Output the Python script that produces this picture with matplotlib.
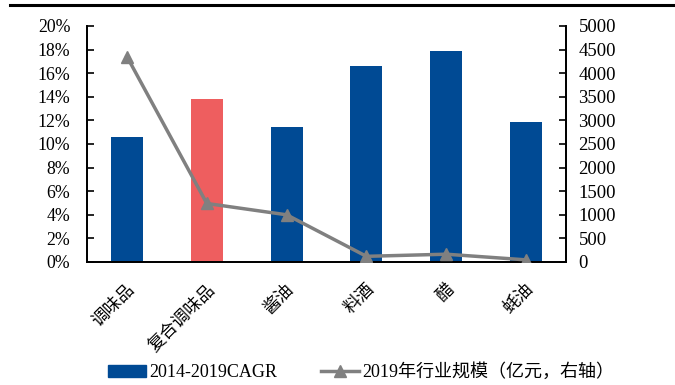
import matplotlib.pyplot as plt
import numpy as np
from matplotlib.ticker import FuncFormatter
from matplotlib.lines import Line2D

plt.rcParams['font.family'] = ['Liberation Serif', 'Noto Sans CJK SC']

# 品类、CAGR(%)、2019年规模(亿元)
cats = ['调味品', '复合调味品', '酱油', '料酒', '醋', '蚝油']
cagr = [10.55, 13.8, 11.45, 16.6, 17.85, 11.9]
scale_2019 = [4350, 1240, 1000, 120, 165, 45]
bar_colors = ['#004A94', '#EE5E5F', '#004A94', '#004A94', '#004A94', '#004A94']

x = np.arange(len(cats))

fig = plt.figure(figsize=(6.75, 3.85), dpi=100)
ax = fig.add_axes([0.129, 0.3195, 0.7095, 0.613])
ax2 = ax.twinx()

ax.bar(x, cagr, width=0.4, color=bar_colors, zorder=2)
ax2.plot(x, scale_2019, color='#808080', lw=2.5, marker='^', ms=8, zorder=3)

ax.set_xlim(-0.5, 5.5)
ax.set_ylim(0, 20)
ax.set_yticks(np.arange(0, 21, 2))
ax.yaxis.set_major_formatter(FuncFormatter(lambda v, p: f'{v:.0f}%'))
ax2.set_ylim(0, 5000)
ax2.set_yticks(np.arange(0, 5001, 500))

ax.set_xticks(x)
ax.set_xticklabels(cats, rotation=45, ha='right', rotation_mode='anchor', fontsize=12.5)
ax.tick_params(axis='x', length=0, pad=14)
ax.tick_params(axis='y', direction='in', length=5, width=1.2, labelsize=12.8, pad=12)
ax2.tick_params(axis='y', direction='in', length=5, width=1.2, labelsize=13.5, pad=9)

for a in (ax, ax2):
    a.spines['top'].set_visible(False)
    for s in ('left', 'right', 'bottom'):
        a.spines[s].set_linewidth(1.3)

ax.set_zorder(ax2.get_zorder() - 1)
ax2.patch.set_visible(False)

# 顶部黑色分隔线
fig.add_artist(Line2D([0.015, 0.997], [0.987, 0.987], color='black', lw=2.2))

handles = [plt.Rectangle((0, 0), 1, 1, color='#004A94'),
           Line2D([], [], color='#808080', lw=2.5, marker='^', ms=8)]
labels = ['2014-2019CAGR', '2019年行业规模（亿元，右轴）']
fig.legend(handles, labels, loc='center left', bbox_to_anchor=(0.136, 0.033), ncol=2,
           frameon=False, fontsize=13, handlelength=2.1, handleheight=0.6,
           columnspacing=2.4, handletextpad=0.2)

fig.savefig('out.png', dpi=100)
